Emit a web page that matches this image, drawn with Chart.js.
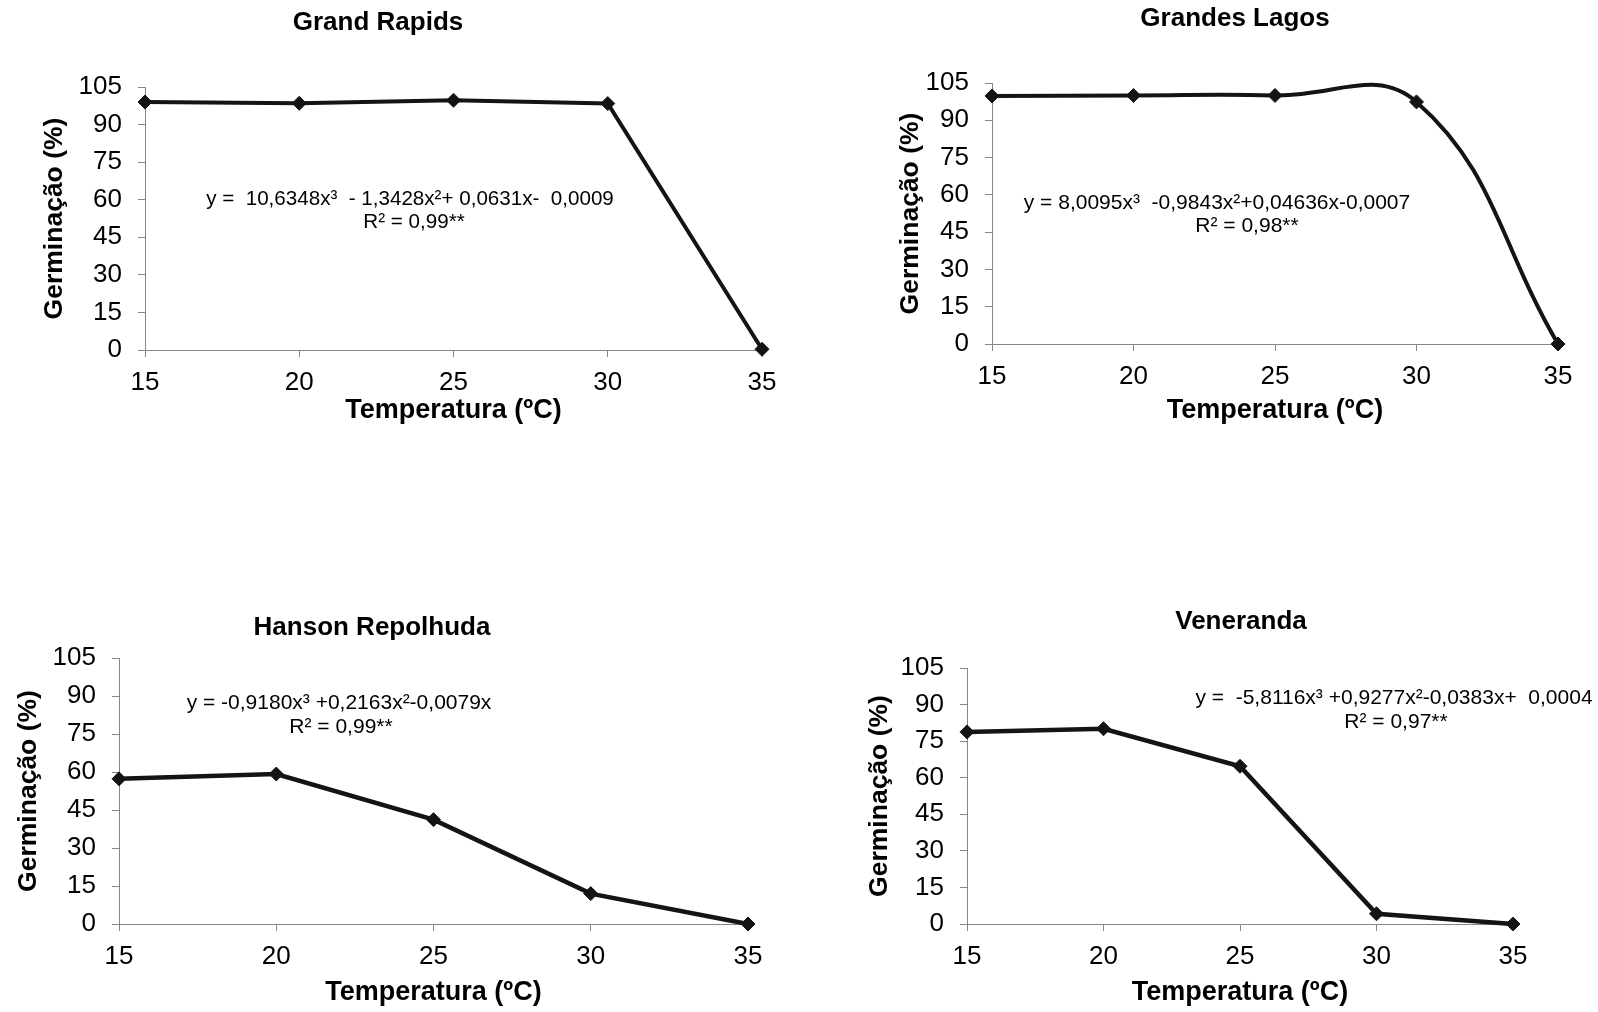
<!DOCTYPE html>
<html>
<head>
<meta charset="utf-8">
<script src="https://cdn.jsdelivr.net/npm/chart.js@4.4.1/dist/chart.umd.min.js"></script>
<style>
  html, body { margin: 0; padding: 0; background: #fff; }
  #page { position: relative; width: 1598px; height: 1012px; overflow: hidden; }
  .box { position: absolute; width: 799px; height: 506px; }
</style>
</head>
<body>
<div id="page">
  <div class="box" style="left:0;top:0"><canvas id="c1" width="799" height="506"></canvas></div>
  <div class="box" style="left:799px;top:0"><canvas id="c2" width="799" height="506"></canvas></div>
  <div class="box" style="left:0;top:506px"><canvas id="c3" width="799" height="506"></canvas></div>
  <div class="box" style="left:799px;top:506px"><canvas id="c4" width="799" height="506"></canvas></div>
</div>
<script>
// temperatures (x) and germination % per cultivar
const temperaturas = [15, 20, 25, 30, 35];
const grandRapids = [99.0, 98.5, 99.7, 98.4, 0.3];
const grandesLagos = [99.8, 100.0, 100.0, 97.4, 0.0];
const hansonRepolhuda = [57.3, 59.2, 41.2, 12.0, 0.0];
const veneranda = [78.8, 80.1, 64.7, 4.2, 0.0];

const yMin = 0, yMax = 105, yStep = 15;
const xMin = 15, xMax = 35, xStep = 5;

const titulos = ['Grand Rapids', 'Grandes Lagos', 'Hanson Repolhuda', 'Veneranda'];
const equacoes = [
  ['y =  10,6348x³  - 1,3428x²+ 0,0631x-  0,0009', 'R² = 0,99**'],
  ['y = 8,0095x³  -0,9843x²+0,04636x-0,0007', 'R² = 0,98**'],
  ['y = -0,9180x³ +0,2163x²-0,0079x', 'R² = 0,99**'],
  ['y =  -5,8116x³ +0,9277x²-0,0383x+  0,0004', 'R² = 0,97**']
];

const FONT = "'Liberation Sans', Arial, sans-serif";
const AXIS_GRAY = '#868686';

// layout of each panel (canvas-local pixels)
const panels = [
  { id: 'c1', data: grandRapids, smooth: false, lw: 4,
    pad: { top: 87, right: 37 }, yW: 145, xH: 156, yTitlePad: 39, xTitlePad: 79,
    title: [378, 23], eq: [[410, 199], [414, 222]], eqSize: 20.6 },
  { id: 'c2', data: grandesLagos, smooth: true, lw: 4,
    pad: { top: 83, right: 40 }, yW: 193, xH: 162, yTitlePad: 96, xTitlePad: 79,
    title: [436, 19], eq: [[418, 203], [448, 226]], eqSize: 21 },
  { id: 'c3', data: hansonRepolhuda, smooth: false, lw: 4.5,
    pad: { top: 152, right: 51 }, yW: 119, xH: 88, yTitlePad: 13, xTitlePad: 3,
    title: [372, 122], eq: [[339, 197], [341, 221]], eqSize: 21 },
  { id: 'c4', data: veneranda, smooth: false, lw: 4.5,
    pad: { top: 162, right: 85 }, yW: 168, xH: 88, yTitlePad: 65, xTitlePad: 3,
    title: [442, 116], eq: [[595, 192], [597, 216]], eqSize: 21 }
];

function notesPlugin(idx, p) {
  return {
    id: 'notes' + idx,
    afterDraw(chart) {
      const ctx = chart.ctx;
      ctx.save();
      ctx.fillStyle = '#000';
      ctx.textAlign = 'center';
      ctx.textBaseline = 'middle';
      ctx.font = 'bold 26px ' + FONT;
      ctx.fillText(titulos[idx], p.title[0], p.title[1]);
      ctx.font = p.eqSize + 'px ' + FONT;
      equacoes[idx].forEach((t, i) => ctx.fillText(t, p.eq[i][0], p.eq[i][1]));
      ctx.restore();
    }
  };
}

panels.forEach((p, idx) => {
  const pts = temperaturas.map((t, i) => ({ x: t, y: p.data[i] }));
  new Chart(document.getElementById(p.id), {
    type: 'line',
    data: {
      datasets: [{
        data: pts,
        borderColor: '#141414',
        borderWidth: p.lw,
        backgroundColor: '#141414',
        pointStyle: 'rectRot',
        pointRadius: 7,
        pointBorderWidth: 1,
        tension: p.smooth ? 0.42 : 0,
        clip: false
      }]
    },
    options: {
      responsive: false,
      animation: false,
      events: [],
      elements: { line: { capBezierPoints: false } },
      layout: { padding: { left: 0, top: p.pad.top, right: p.pad.right, bottom: 0 } },
      plugins: { legend: { display: false }, tooltip: { enabled: false } },
      scales: {
        x: {
          type: 'linear', min: xMin, max: xMax,
          afterFit(s) { s.height = p.xH; },
          ticks: { stepSize: xStep, color: '#000', padding: 10, font: { family: FONT, size: 26 } },
          grid: { drawOnChartArea: false, tickLength: 7, color: AXIS_GRAY },
          border: { color: AXIS_GRAY, width: 1 },
          title: { display: true, text: 'Temperatura (ºC)', color: '#000',
                   font: { family: FONT, size: 27, weight: 'bold' },
                   padding: { top: 0, bottom: p.xTitlePad } }
        },
        y: {
          min: yMin, max: yMax,
          afterFit(s) { s.width = p.yW; },
          ticks: { stepSize: yStep, color: '#000', padding: 16, font: { family: FONT, size: 26 } },
          grid: { drawOnChartArea: false, tickLength: 7, color: AXIS_GRAY },
          border: { color: AXIS_GRAY, width: 1 },
          title: { display: true, text: 'Germinação (%)', color: '#000',
                   font: { family: FONT, size: 26.5, weight: 'bold' },
                   padding: { top: p.yTitlePad, bottom: 0 } }
        }
      }
    },
    plugins: [notesPlugin(idx, p)]
  });
});
</script>
</body>
</html>
